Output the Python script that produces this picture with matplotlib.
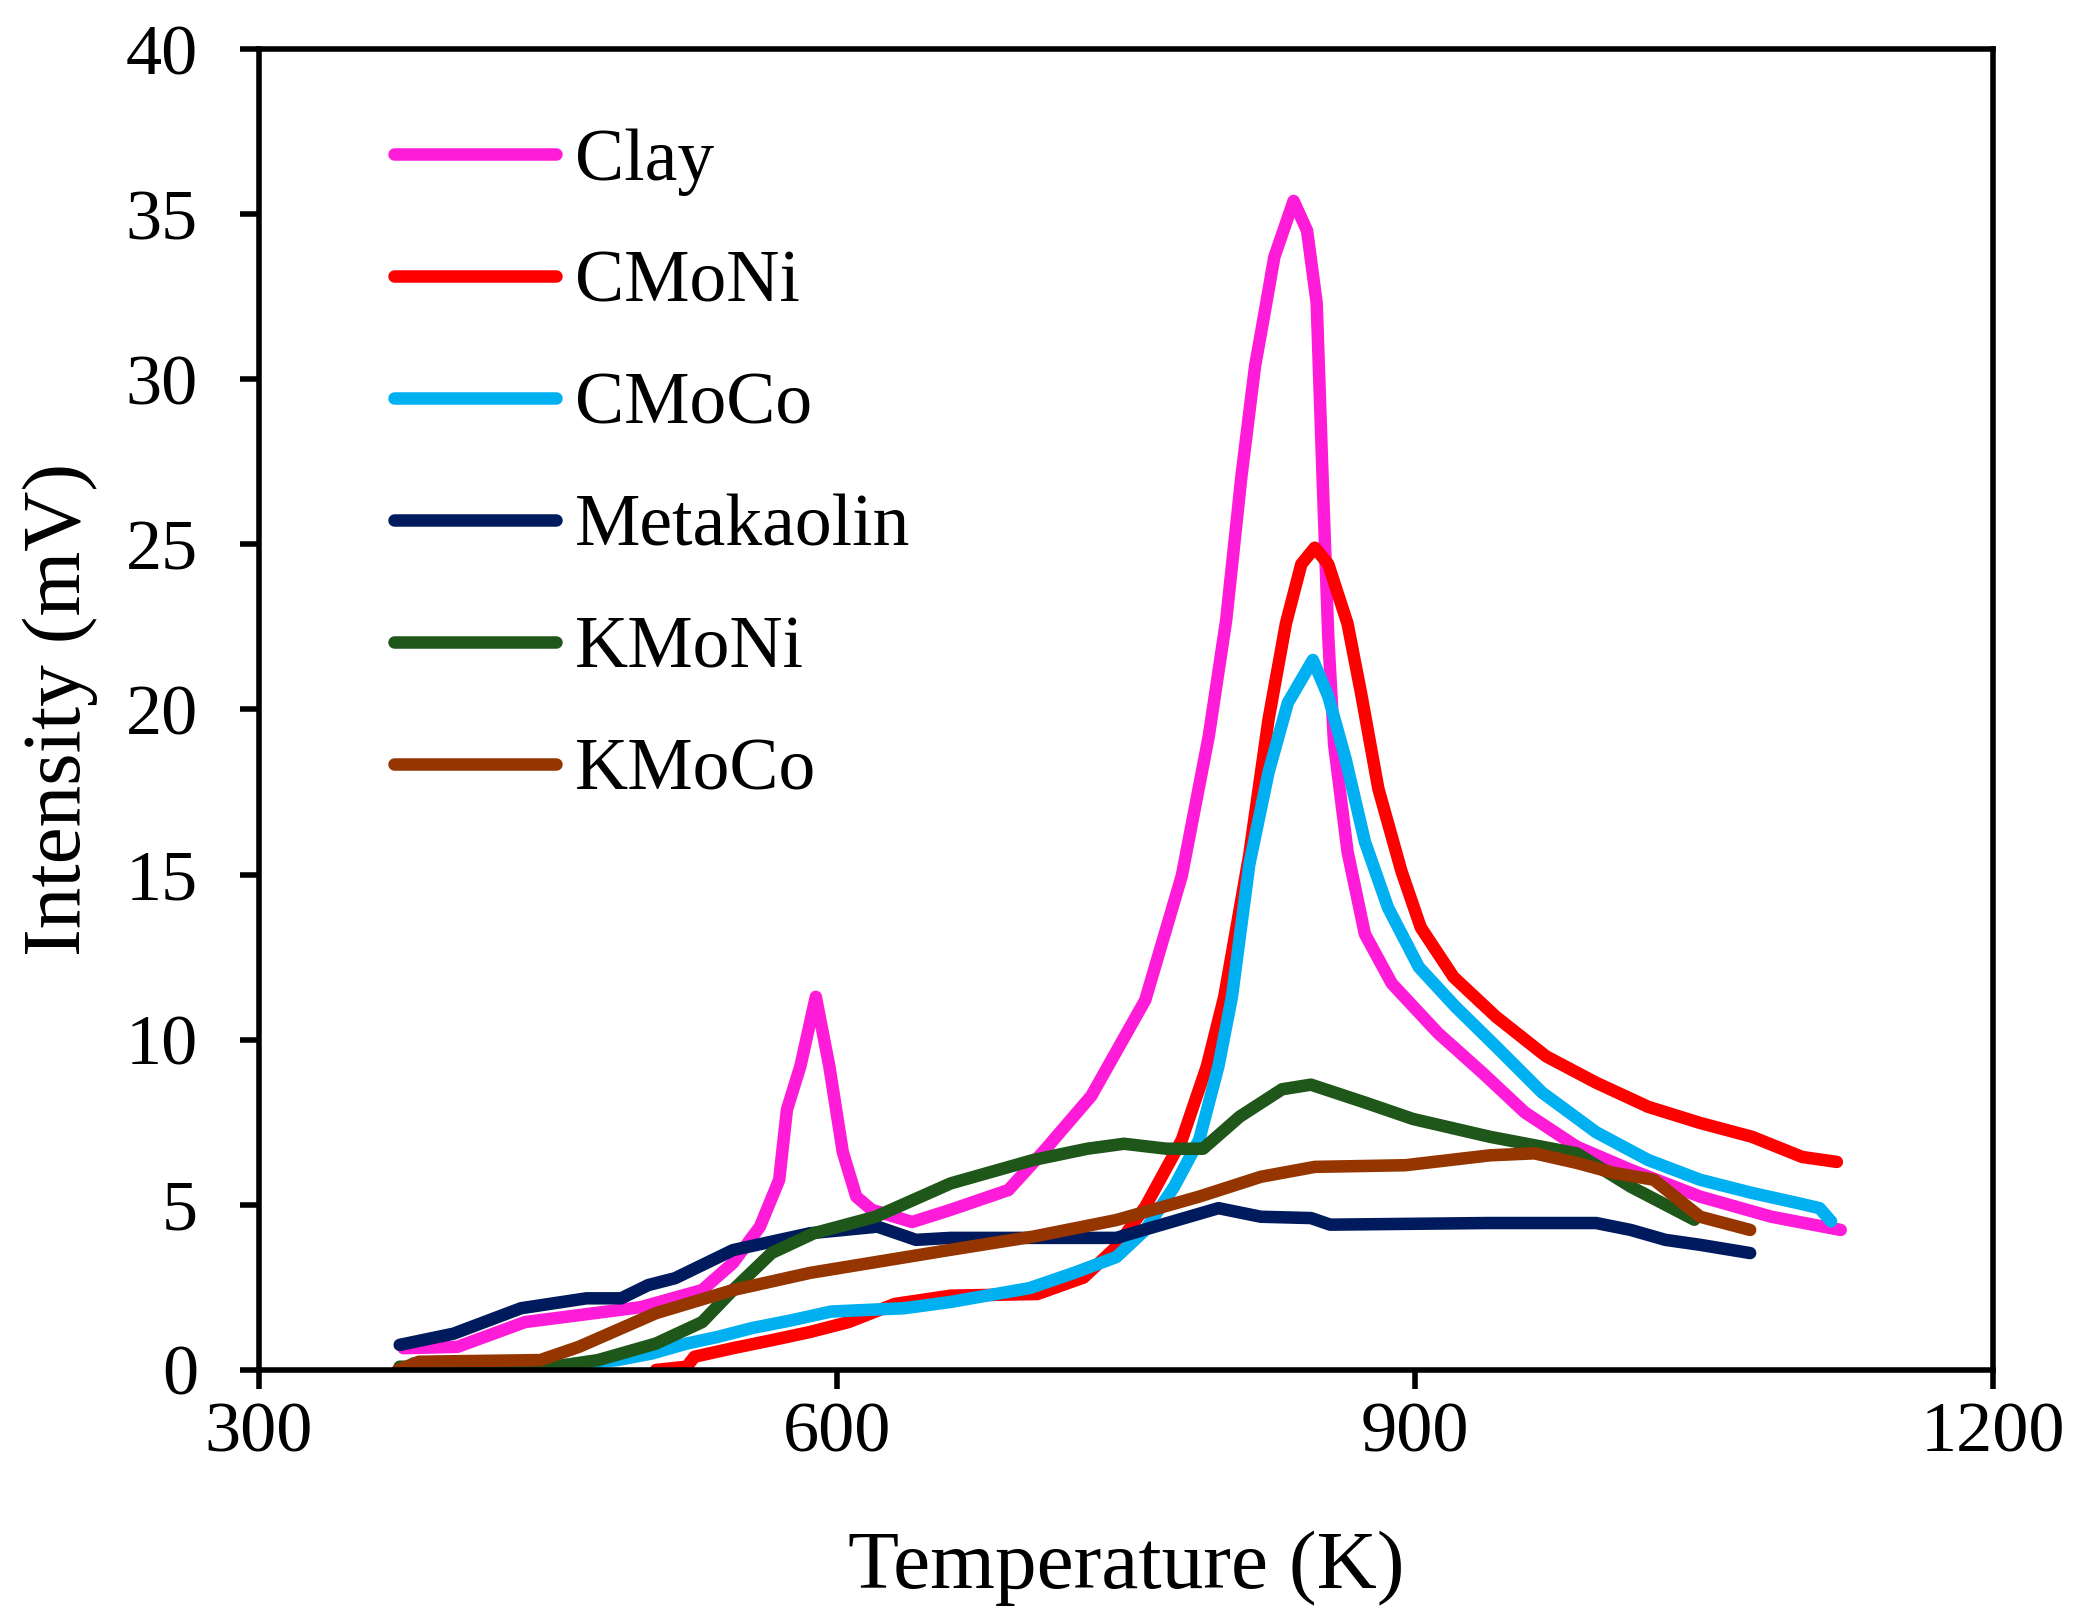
import matplotlib
matplotlib.use('Agg')
import matplotlib.pyplot as plt

# readings (temperature in K, intensity in mV)
clay_t = [375, 403, 438, 474, 498, 530, 546, 560, 570, 574, 581, 589, 596, 603, 610, 618, 639, 659,
          689, 708, 732, 760, 779, 793, 802, 810, 817, 821, 827, 837, 844, 849, 852, 855, 858, 865,
          874, 888, 912, 935, 957, 984, 1012, 1048, 1085, 1121]
clay_i = [0.66, 0.7, 1.45, 1.72, 1.9, 2.42, 3.24, 4.34, 5.76, 7.88, 9.2, 11.3, 9.2, 6.6, 5.25, 4.85, 4.48, 4.85,
          5.45, 6.67, 8.3, 11.2, 14.97, 19.2, 22.7, 27.1, 30.4, 31.7, 33.7, 35.4, 34.5, 32.3, 27.1, 22.2, 18.95, 15.7,
          13.2, 11.7, 10.2, 9.0, 7.8, 6.76, 6.06, 5.25, 4.64, 4.24]

cmoni_t = [506, 522, 526, 546, 566, 586, 606, 630, 659, 704, 728, 745, 760, 779, 792, 801, 814, 824, 833,
           841, 848, 855, 865, 872, 881, 893, 903, 920, 942, 968, 994, 1021, 1048, 1075, 1101, 1119]
cmoni_i = [0, 0.1, 0.4, 0.66, 0.9, 1.15, 1.45, 2.0, 2.25, 2.3, 2.8, 3.73, 4.94, 6.97, 9.2, 11.3, 15.6, 19.7, 22.6,
           24.4, 24.9, 24.4, 22.6, 20.5, 17.6, 15.1, 13.4, 11.9, 10.7, 9.5, 8.7, 7.97, 7.48, 7.06, 6.45, 6.3]

cmoco_t = [380, 410, 450, 486, 504, 522, 538, 556, 576, 597, 635, 659, 700, 723, 745, 760, 775, 788, 798,
           805, 814, 824, 834, 847, 855, 864, 874, 886, 902, 921, 942, 966, 994, 1021, 1048, 1075, 1099,
           1110, 1116]
cmoco_i = [0.2, 0.15, 0.1, 0.3, 0.5, 0.8, 1.0, 1.27, 1.5, 1.77, 1.87, 2.06, 2.48, 2.94, 3.42, 4.24, 5.55, 6.97, 9.2,
           11.3, 15.3, 18.1, 20.2, 21.5, 20.4, 18.5, 16.0, 14.0, 12.2, 11.0, 9.8, 8.4, 7.2, 6.36, 5.76, 5.36, 5.05,
           4.9, 4.5]

meta_t = [373, 401, 436, 470, 488, 502, 516, 546, 586, 621, 641, 659, 745, 798, 820, 846, 856, 938, 994,
          1012, 1030, 1048, 1074]
meta_i = [0.76, 1.1, 1.87, 2.17, 2.17, 2.57, 2.78, 3.63, 4.14, 4.34, 3.94, 4.0, 4.0, 4.9, 4.64, 4.6, 4.4, 4.45, 4.45,
          4.24, 3.94, 3.79, 3.54]

kmoni_t = [373, 407, 447, 476, 506, 530, 546, 566, 588, 620, 659, 702, 730, 749, 771, 790, 809, 831, 846,
           874, 899, 939, 984, 1012, 1045]
kmoni_i = [0.1, 0.05, 0.05, 0.3, 0.8, 1.45, 2.42, 3.54, 4.14, 4.64, 5.65, 6.36, 6.7, 6.85, 6.7, 6.7, 7.67, 8.5, 8.64,
           8.1, 7.6, 7.06, 6.56, 5.55, 4.55]

kmoco_t = [372, 383, 446, 466, 506, 546, 586, 659, 702, 745, 788, 820, 848, 895, 939, 962, 984, 1003, 1024,
           1048, 1074]
kmoco_i = [0.0, 0.25, 0.3, 0.7, 1.72, 2.42, 2.94, 3.64, 4.04, 4.54, 5.25, 5.85, 6.15, 6.2, 6.5, 6.56, 6.27, 5.97, 5.76,
           4.64, 4.24]

labels = ['Clay', 'CMoNi', 'CMoCo', 'Metakaolin', 'KMoNi', 'KMoCo']
colors = ['#FF1CD9', '#FF0000', '#00B0F0', '#001A5E', '#1F561A', '#953500']

plt.rcParams['font.family'] = ['Liberation Serif', 'DejaVu Serif']

fig = plt.figure(figsize=(20.84, 16.23), dpi=100)
ax = fig.add_axes([0.1243, 0.1559, 0.832, 0.8139])

data = [(clay_t, clay_i), (cmoni_t, cmoni_i), (cmoco_t, cmoco_i),
        (meta_t, meta_i), (kmoni_t, kmoni_i), (kmoco_t, kmoco_i)]
for (t, i), lab, col in zip(data, labels, colors):
    ax.plot(t, i, color=col, lw=9, label=lab,
            solid_capstyle='round', solid_joinstyle='round')

ax.set_xlim(300, 1200)
ax.set_ylim(0, 40)
ax.set_xticks([300, 600, 900, 1200])
ax.set_yticks(range(0, 41, 5))
ax.tick_params(direction='out', length=14, width=4, labelsize=52)
ax.tick_params(axis='y', pad=30)
ax.tick_params(axis='x', pad=9)
for s in ax.spines.values():
    s.set_linewidth(4)

ax.set_xlabel('Temperature (K)', fontsize=60, labelpad=46)
ax.set_ylabel('Intensity (mV)', fontsize=60, labelpad=20)

ax.legend(loc='upper left', bbox_to_anchor=(0.078, 0.94), frameon=False, fontsize=53,
          handlelength=2.2, handletextpad=0.25, labelspacing=0.74,
          borderpad=0, borderaxespad=0)

fig.savefig('out.png', dpi=100)
